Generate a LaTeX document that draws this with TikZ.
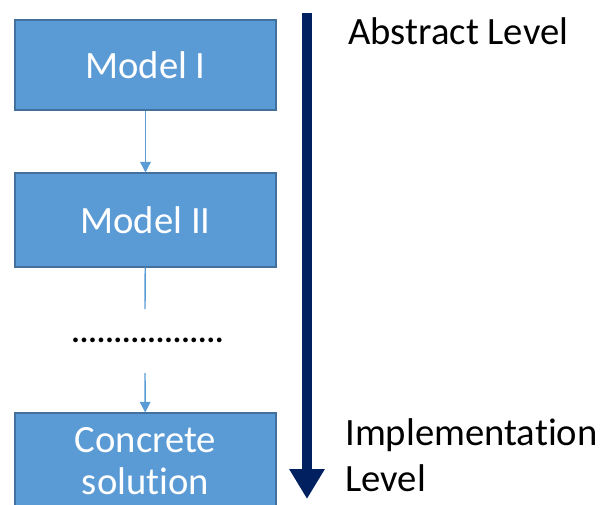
\documentclass[tikz,border=0pt]{standalone}
\usepackage{fontspec}
\setmainfont{Carlito}[Ligatures={NoCommon}]
\usepackage{xcolor}
\usetikzlibrary{arrows.meta}

\definecolor{boxblue}{HTML}{5B9BD5}
\definecolor{boxedge}{HTML}{41719C}
\definecolor{navy}{HTML}{002060}

\begin{document}
\begin{tikzpicture}[x=0.02cm, y=-0.02cm,
        modelbox/.style={draw=boxedge, line width=0.6pt, fill=boxblue, text=white,
            minimum width=5.22cm, minimum height=1.84cm, inner sep=0pt,
            align=center, font=\fontsize{22}{25}\selectfont},
        link/.style={draw=boxblue, line width=0.8pt},
        levellabel/.style={anchor=west, align=left, inner sep=0pt,
            font=\fontsize{22}{26.5}\selectfont}]
            \useasboundingbox (0,0) rectangle (601,504);
            \clip (0,0) rectangle (601,504);

            \node[modelbox, minimum height=1.8cm] (m1) at (145.5, 65) {Model I};
            \node[modelbox, minimum height=1.88cm] (m2) at (145.5, 220) {Model II};
            \node[modelbox, minimum height=1.94cm] (m3) at (145.5, 461.5) {Concrete\\[-1pt]solution};

            \coordinate (gapTop) at (145, 309);
            \coordinate (gapBot) at (145, 373);
            \node[font=\fontsize{18}{20}\selectfont\bfseries, inner sep=0pt] (dots) at (147.5, 340) {..................};

            \coordinate (abstractEnd) at (307, 13);
            \coordinate (concreteEnd) at (307, 499);

            \draw[link, -{Triangle[length=6pt, width=6pt]}] (m1) -- (m2); % I-II
            \draw[link] (m2) -- (gapTop);
            \draw[link, -{Triangle[length=6pt, width=6pt]}] (gapBot) -- (m3);

            % level arrow
            \draw[navy, line width=5.7pt, -{Triangle[length=17pt, width=19pt]}] (abstractEnd) -- (concreteEnd);

            \node[levellabel] (abstract) at (348, 31) {Abstract Level};
            \node[levellabel] (implementation) at (345, 455) {Implementation\\Level};
        \end{tikzpicture}
\end{document}
